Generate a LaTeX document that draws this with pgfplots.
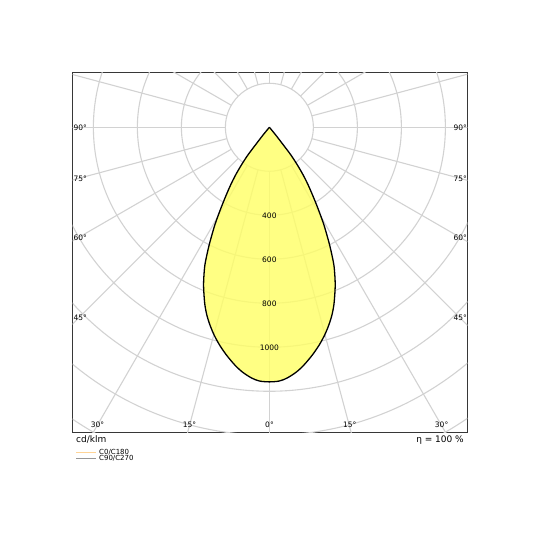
\documentclass[border=0pt]{standalone}
\usepackage{pgfplots}
\pgfplotsset{compat=1.18}
\usepackage{pgfplotstable}
\usetikzlibrary{calc}
\usepackage{fontspec}
\setmainfont{DejaVu Sans}
\definecolor{gridc}{RGB}{210,210,210}
\definecolor{fillc}{RGB}{255,255,100}
\definecolor{framec}{RGB}{55,55,55}
\definecolor{orl}{RGB}{255,212,150}
\definecolor{grl}{RGB}{150,150,150}
\pgfplotstableread{
a I
-39.8 0
-39.3 45
-38.3 103
-37.8 159
-36.6 213
-35.3 266
-33.9 316
-32.5 365
-31.3 413
-30.2 461
-29.2 508
-28.1 555
-27.1 601
-26.1 646
-25.1 691
-23.9 734
-22.65 777
-21.3 818
-19.95 859
-18.45 899
-16.75 938
-14.9 977
-12.9 1015
-10.7 1053
-8.26 1092
-6.3 1119
-4.1 1142
-2.26 1154
0 1157
2.26 1154
4.1 1142
6.3 1119
8.26 1092
10.7 1053
12.9 1015
14.9 977
16.75 938
18.45 899
19.95 859
21.3 818
22.65 777
23.9 734
25.1 691
26.1 646
27.1 601
28.1 555
29.2 508
30.2 461
31.3 413
32.5 365
33.9 316
35.3 266
36.6 213
37.8 159
38.3 103
39.3 45
39.8 0
}\ldc
\begin{document}
\begin{tikzpicture}
\useasboundingbox (0,0) rectangle (540pt,540pt);
\begin{axis}[
  at={(72.7pt,107.3pt)}, anchor=south west,
  scale only axis, width=394.6pt, height=360pt,
  xmin=-894, xmax=899.6, ymin=-1388, ymax=248,
  xtick=\empty, ytick=\empty,
  axis line style={draw=framec, line width=1.2pt},
  clip mode=global,
]
% grid
\pgfplotsinvokeforeach{0,15,...,345}{\draw[gridc, line width=1.1pt] ($(axis cs:0,0)+(#1:44pt)$) -- ($(axis cs:0,0)+(#1:600pt)$);}
\pgfplotsinvokeforeach{1,...,9}{\draw[gridc, line width=1.1pt] (axis cs:0,0) circle[radius=#1*44pt];}
% curve
\addplot[draw=black, line width=1.3pt, fill=fillc, fill opacity=0.8, line join=round, smooth, tension=0.5]
  table[x expr={\thisrow{I}*sin(\thisrow{a})}, y expr={-\thisrow{I}*cos(\thisrow{a})}] {\ldc};
\pgfplotsinvokeforeach{400,600,800,1000}{\node[font=\fontsize{7.5}{9}\selectfont, inner sep=0pt] at (axis cs:0,-#1) {#1};}
\end{axis}
% angle labels
\begin{scope}[every node/.style={font=\fontsize{7.5}{9}\selectfont, inner sep=0pt}]
\node[anchor=west] at (73.3pt,412.2pt) {90°};
\node[anchor=west] at (73.3pt,361.3pt) {75°};
\node[anchor=west] at (73.3pt,302pt) {60°};
\node[anchor=west] at (73.3pt,222.2pt) {45°};
\node[anchor=east] at (467pt,412.2pt) {90°};
\node[anchor=east] at (467pt,361.3pt) {75°};
\node[anchor=east] at (467pt,302pt) {60°};
\node[anchor=east] at (467pt,222.2pt) {45°};
\node at (97.5pt,115pt) {30°};
\node at (189.5pt,115pt) {15°};
\node at (269.5pt,115pt) {0°};
\node at (349.7pt,115pt) {15°};
\node at (441.6pt,115pt) {30°};
\end{scope}
\node[anchor=base west, inner sep=0pt, font=\fontsize{9}{10}\selectfont] at (76pt,97.7pt) {cd/klm};
\node[anchor=base east, inner sep=0pt, font=\fontsize{9}{10}\selectfont] at (464pt,97.7pt) {η = 100 \%};
\draw[orl, line width=0.8pt] (76pt,87.3pt) -- (96pt,87.3pt);
\draw[grl, line width=0.8pt] (76pt,81.7pt) -- (96pt,81.7pt);
\node[anchor=west, inner sep=0pt, font=\fontsize{7}{8}\selectfont] at (99pt,87.7pt) {C0/C180};
\node[anchor=west, inner sep=0pt, font=\fontsize{7}{8}\selectfont] at (99pt,81.7pt) {C90/C270};
\end{tikzpicture}
\end{document}
